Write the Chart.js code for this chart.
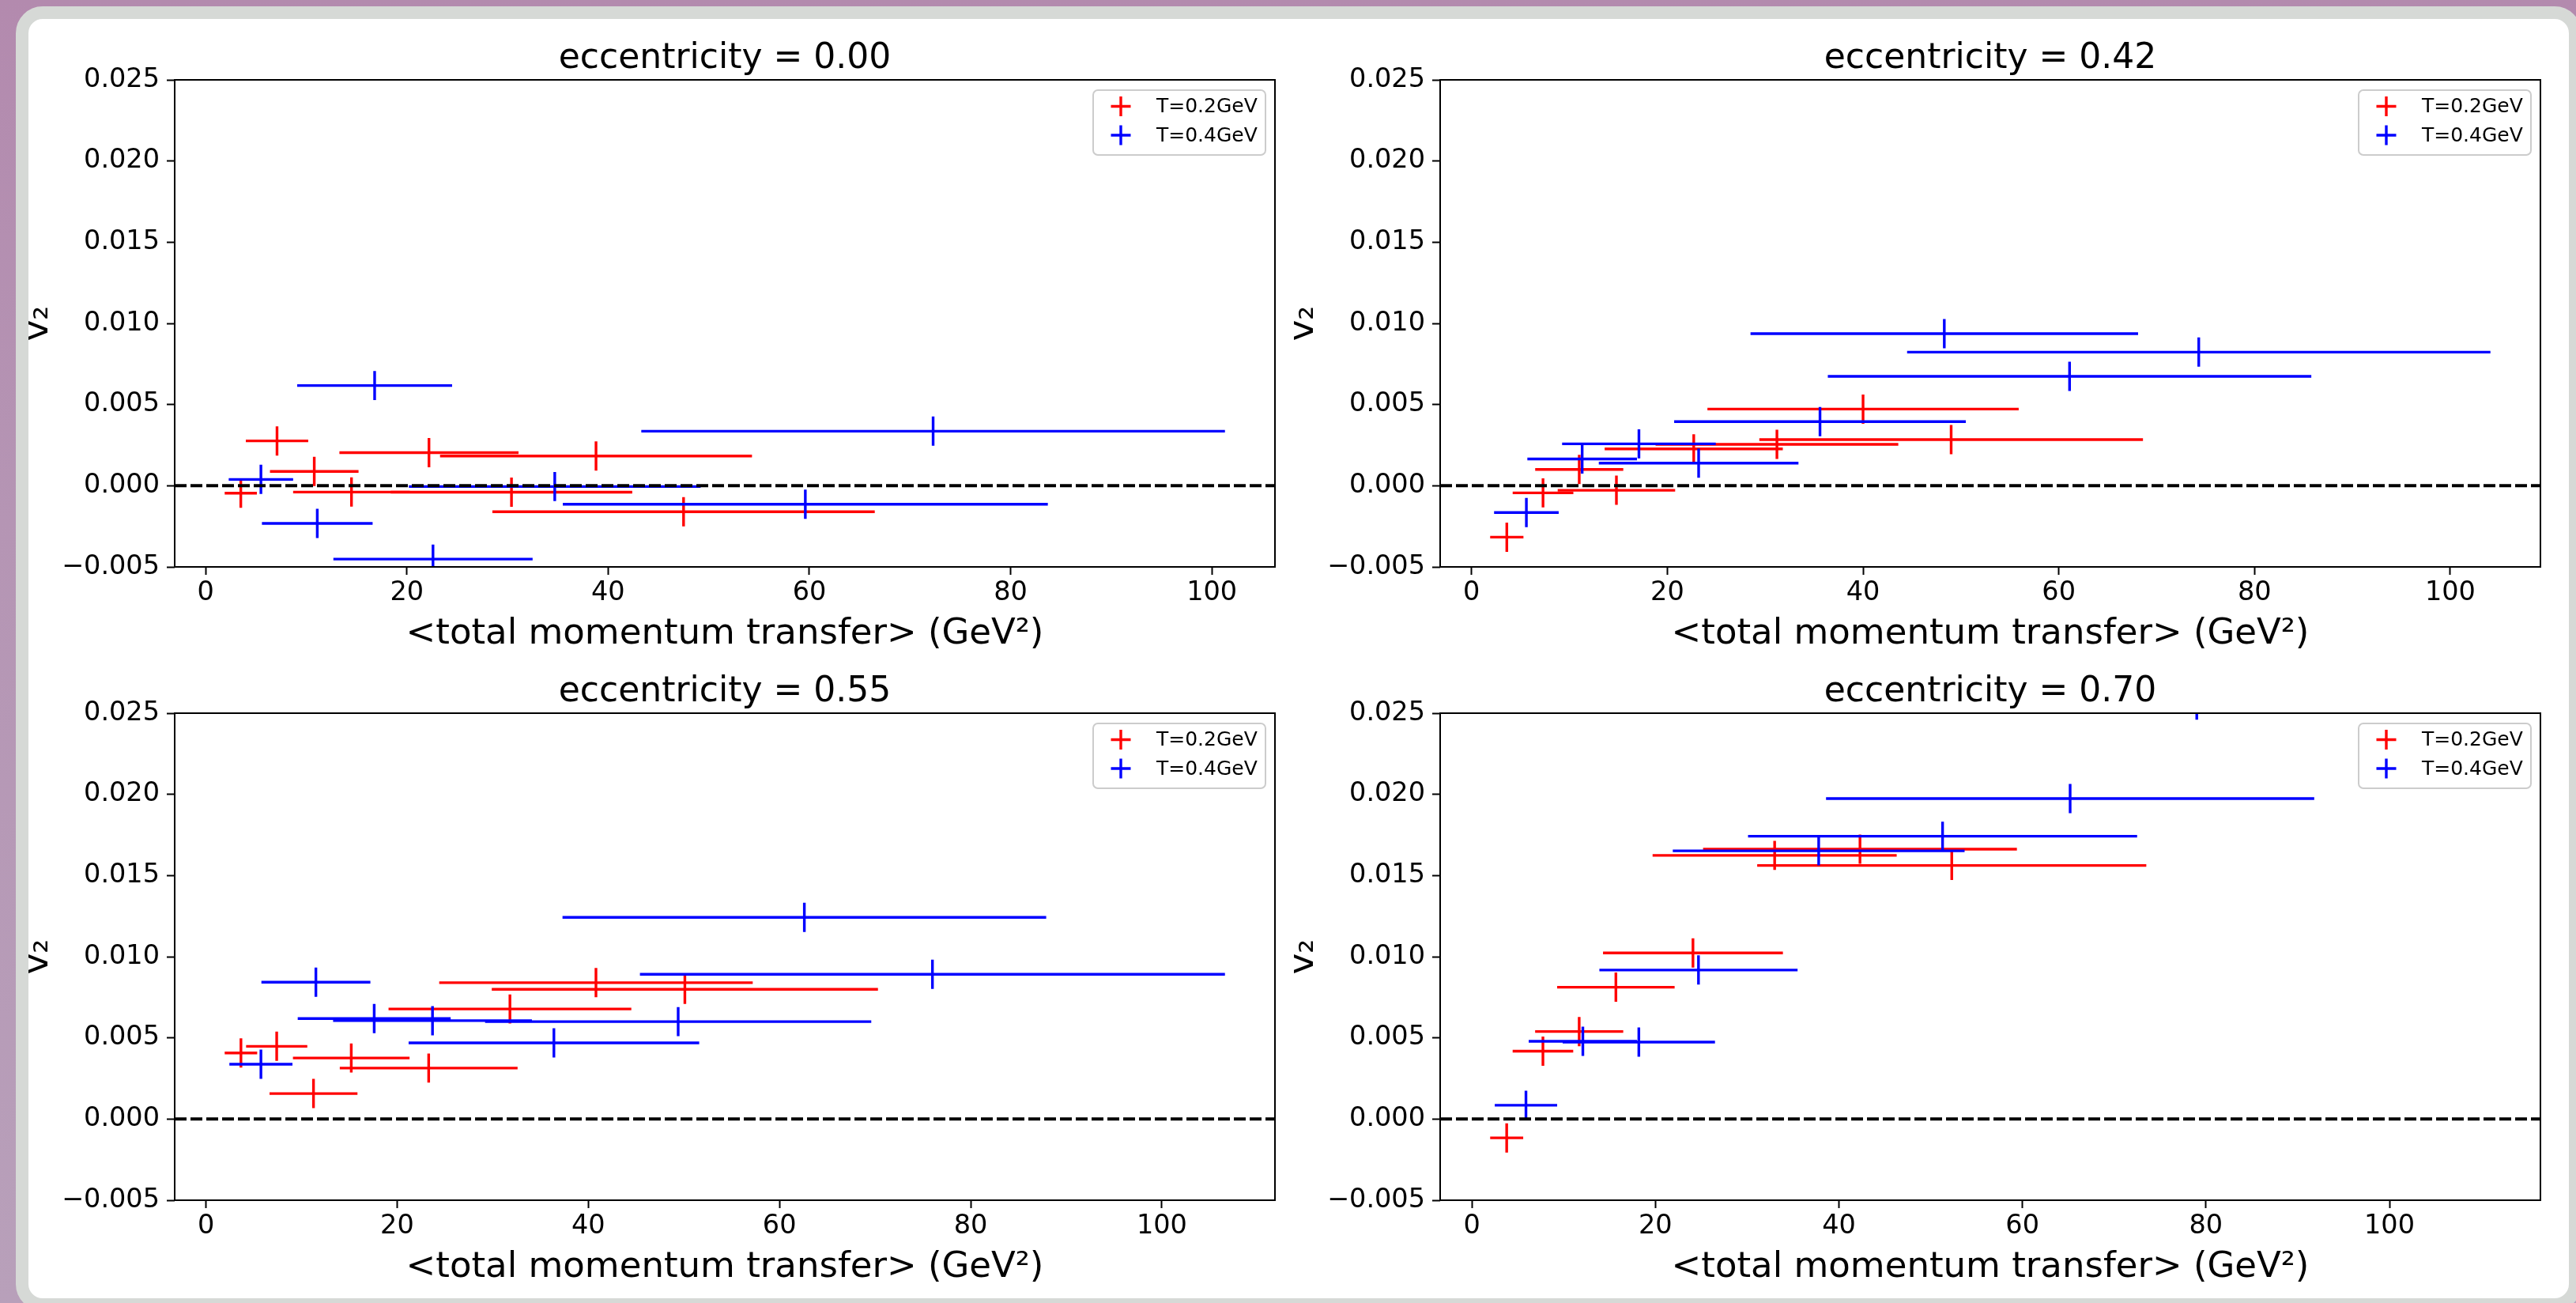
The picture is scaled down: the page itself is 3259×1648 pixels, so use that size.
<!DOCTYPE html>
<html><head><meta charset="utf-8">
<script src="https://cdn.jsdelivr.net/npm/chart.js@4.4.0/dist/chart.umd.min.js"></script>
<style>
html,body{margin:0;padding:0;width:3259px;height:1648px;overflow:hidden;}
body{position:relative;background:linear-gradient(180deg,#b38aae 0%,#b595b4 40%,#b8a0ba 100%);font-family:"DejaVu Sans";}
#card{position:absolute;left:20px;top:8px;width:3246px;height:1650px;box-sizing:border-box;border:16px solid #d6d9d6;border-radius:34px;background:#fff;}
canvas{position:absolute;}
</style></head><body>
<div id="card"></div>
<canvas id="c0" width="1640" height="840" style="left:0px;top:0px;width:1640px;height:840px"></canvas>
<canvas id="c1" width="1640" height="840" style="left:1601px;top:0px;width:1640px;height:840px"></canvas>
<canvas id="c2" width="1640" height="840" style="left:0px;top:801px;width:1640px;height:840px"></canvas>
<canvas id="c3" width="1640" height="840" style="left:1601px;top:801px;width:1640px;height:840px"></canvas>
<script>
// ---- data ----
const eccentricities = ['0.00', '0.42', '0.55', '0.70'];
const seriesLabels = ['T=0.2GeV', 'T=0.4GeV'];
const seriesColors = ['#ff0000', '#0000ff'];
const xTickValues = [0, 20, 40, 60, 80, 100];
const xTickLabels = ['0', '20', '40', '60', '80', '100'];
const yTickValues = [-0.005, 0, 0.005, 0.010, 0.015, 0.020, 0.025];
const yTickLabels = ['\u22120.005', '0.000', '0.005', '0.010', '0.015', '0.020', '0.025'];

// eccentricity = 0.00
const e000RedX    = [3.5, 7.1, 10.8, 14.5, 22.2, 30.4, 38.8, 47.5];
const e000RedXerr = [1.6, 3.1, 4.4, 5.8, 8.9, 12.0, 15.5, 19.0];
const e000RedY    = [-0.00046, 0.00276, 0.00088, -0.00039, 0.00204, -0.00040, 0.00183, -0.00160];
const e000RedYerr = [0.0009, 0.0009, 0.0009, 0.0009, 0.0009, 0.0009, 0.0009, 0.0009];
const e000BlueX    = [5.5, 11.1, 16.8, 22.6, 34.7, 59.6, 72.3];
const e000BlueXerr = [3.2, 5.5, 7.7, 9.9, 14.5, 24.1, 29.0];
const e000BlueY    = [0.00039, -0.00232, 0.00617, -0.00452, -0.00005, -0.00114, 0.00336];
const e000BlueYerr = [0.0009, 0.0009, 0.0009, 0.0009, 0.0009, 0.0009, 0.0009];

// eccentricity = 0.42
const e042RedX    = [3.6, 7.3, 11.0, 14.8, 22.7, 31.2, 40.0, 49.0];
const e042RedXerr = [1.7, 3.1, 4.5, 6.0, 9.1, 12.4, 15.9, 19.6];
const e042RedY    = [-0.00317, -0.00044, 0.00100, -0.00028, 0.00227, 0.00255, 0.00472, 0.00284];
const e042RedYerr = [0.0009, 0.0009, 0.0009, 0.0009, 0.0009, 0.0009, 0.0009, 0.0009];
const e042BlueX    = [5.6, 11.3, 17.1, 23.2, 35.6, 48.3, 61.1, 74.3];
const e042BlueXerr = [3.3, 5.6, 7.85, 10.2, 14.9, 19.8, 24.7, 29.8];
const e042BlueY    = [-0.00165, 0.00165, 0.00258, 0.00139, 0.00395, 0.00937, 0.00674, 0.00823];
const e042BlueYerr = [0.0009, 0.0009, 0.0009, 0.0009, 0.0009, 0.0009, 0.0009, 0.0009];

// eccentricity = 0.55
const e055RedX    = [3.66, 7.4, 11.25, 15.2, 23.3, 31.8, 40.8, 50.1];
const e055RedXerr = [1.7, 3.2, 4.6, 6.1, 9.3, 12.7, 16.4, 20.2];
const e055RedY    = [0.00407, 0.00448, 0.00157, 0.00376, 0.00314, 0.00678, 0.00840, 0.00799];
const e055RedYerr = [0.0009, 0.0009, 0.0009, 0.0009, 0.0009, 0.0009, 0.0009, 0.0009];
const e055BlueX    = [5.75, 11.5, 17.6, 23.7, 36.4, 49.4, 62.6, 76.0];
const e055BlueXerr = [3.3, 5.7, 8.0, 10.4, 15.2, 20.2, 25.3, 30.6];
const e055BlueY    = [0.00338, 0.00843, 0.00619, 0.00606, 0.00469, 0.00600, 0.01242, 0.00892];
const e055BlueYerr = [0.0009, 0.0009, 0.0009, 0.0009, 0.0009, 0.0009, 0.0009, 0.0009];

// eccentricity = 0.70
const e070RedX    = [3.8, 7.75, 11.7, 15.7, 24.1, 33.0, 42.3, 52.3];
const e070RedXerr = [1.8, 3.3, 4.8, 6.4, 9.8, 13.3, 17.1, 21.2];
const e070RedY    = [-0.00116, 0.00418, 0.00539, 0.00812, 0.01023, 0.01624, 0.01662, 0.01562];
const e070RedYerr = [0.0009, 0.0009, 0.0009, 0.0009, 0.0009, 0.0009, 0.0009, 0.0009];
const e070BlueX    = [5.9, 12.1, 18.2, 24.7, 37.8, 51.3, 65.2, 79.0];
const e070BlueXerr = [3.4, 5.9, 8.3, 10.8, 15.9, 21.2, 26.6, 32.0];
const e070BlueY    = [0.00085, 0.00479, 0.00474, 0.00918, 0.01652, 0.01742, 0.01974, 0.02550];
const e070BlueYerr = [0.0009, 0.0009, 0.0009, 0.0009, 0.0009, 0.0009, 0.0009, 0.0009];

const panels = [
  {red:[e000RedX,e000RedXerr,e000RedY,e000RedYerr], blue:[e000BlueX,e000BlueXerr,e000BlueY,e000BlueYerr]},
  {red:[e042RedX,e042RedXerr,e042RedY,e042RedYerr], blue:[e042BlueX,e042BlueXerr,e042BlueY,e042BlueYerr]},
  {red:[e055RedX,e055RedXerr,e055RedY,e055RedYerr], blue:[e055BlueX,e055BlueXerr,e055BlueY,e055BlueYerr]},
  {red:[e070RedX,e070RedXerr,e070RedY,e070RedYerr], blue:[e070BlueX,e070BlueXerr,e070BlueY,e070BlueYerr]}
];

// ---- rendering ----
Chart.defaults.color = '#000';
Chart.defaults.font.family = '"DejaVu Sans"';

const LW = 3.4;
function toPoints(arr){
  const [xs, xe, ys, ye] = arr;
  return xs.map((v,i)=>({x:v, y:ys[i], xerr:xe[i], yerr:ye[i]}));
}

const errorBarPlugin = {
  id: 'errbars',
  beforeDatasetsDraw(chart){
    const {ctx, chartArea:a, scales:{x, y}} = chart;
    ctx.save();
    ctx.beginPath(); ctx.rect(a.left, a.top, a.right-a.left, a.bottom-a.top); ctx.clip();
    chart.data.datasets.forEach(ds=>{
      if(!ds.errorBars) return;
      ctx.strokeStyle = ds.borderColor; ctx.lineWidth = LW; ctx.lineCap = 'butt';
      ds.data.forEach(p=>{
        const px = x.getPixelForValue(p.x), py = y.getPixelForValue(p.y);
        ctx.beginPath();
        ctx.moveTo(x.getPixelForValue(p.x-p.xerr), py); ctx.lineTo(x.getPixelForValue(p.x+p.xerr), py);
        ctx.moveTo(px, y.getPixelForValue(p.y-p.yerr)); ctx.lineTo(px, y.getPixelForValue(p.y+p.yerr));
        ctx.stroke();
      });
    });
    ctx.restore();
  },
  afterDraw(chart){
    const {ctx, chartArea:a} = chart;
    const o = chart.options.plugins.errbars;
    ctx.save();
    // frame
    ctx.strokeStyle = '#000'; ctx.lineWidth = 2;
    ctx.strokeRect(a.left, a.top, a.right-a.left, a.bottom-a.top);
    // title
    ctx.fillStyle = '#000';
    ctx.font = '44px "DejaVu Sans"';
    ctx.textAlign = 'center'; ctx.textBaseline = 'alphabetic';
    ctx.fillText(o.title, (a.left+a.right)/2, a.top - 15);
    // legend
    const lw = 218, lh = 82, lx = a.right - 12 - lw, ly = a.top + 13;
    ctx.beginPath();
    ctx.roundRect(lx, ly, lw, lh, 6);
    ctx.fillStyle = 'rgba(255,255,255,0.8)'; ctx.fill();
    ctx.strokeStyle = '#cccccc'; ctx.lineWidth = 2; ctx.stroke();
    const rows = [ly + 20.5, ly + 57];
    chart.data.datasets.filter(d=>d.errorBars).forEach((ds, i)=>{
      const cx = lx + 35, cy = rows[i];
      ctx.strokeStyle = ds.borderColor; ctx.lineWidth = LW;
      ctx.beginPath();
      ctx.moveTo(cx-12.5, cy); ctx.lineTo(cx+12.5, cy);
      ctx.moveTo(cx, cy-12.5); ctx.lineTo(cx, cy+12.5);
      ctx.stroke();
      ctx.fillStyle = '#000'; ctx.font = '25px "DejaVu Sans"';
      ctx.textAlign = 'left'; ctx.textBaseline = 'middle';
      ctx.fillText(ds.label, lx + 80, cy + 1);
    });
    ctx.restore();
  }
};

panels.forEach((p, k)=>{
  const all = [...toPoints(p.red), ...toPoints(p.blue)];
  const lo = Math.min(...all.map(d=>d.x-d.xerr));
  const hi = Math.max(...all.map(d=>d.x+d.xerr));
  const m = 0.05*(hi-lo);
  const xmin = lo - m, xmax = hi + m;
  new Chart(document.getElementById('c'+k), {
    type: 'scatter',
    data: {
      datasets: [
        {label: seriesLabels[0], data: toPoints(p.red), borderColor: seriesColors[0], backgroundColor: seriesColors[0], pointRadius: 0, errorBars: true},
        {label: seriesLabels[1], data: toPoints(p.blue), borderColor: seriesColors[1], backgroundColor: seriesColors[1], pointRadius: 0, errorBars: true},
        {type: 'line', label: 'zero', data: [{x:xmin, y:0}, {x:xmax, y:0}], borderColor: '#000', borderWidth: 4, borderDash: [15,5], pointRadius: 0, fill: false}
      ]
    },
    options: {
      responsive: false, animation: false, devicePixelRatio: 1,
      layout: {padding: {top: 101, left: 0, right: 27, bottom: 0}},
      plugins: {legend: {display: false}, tooltip: {enabled: false}, title: {display: false},
        errbars: {title: 'eccentricity = ' + eccentricities[k]}},
      scales: {
        x: {
          type: 'linear', min: xmin, max: xmax,
          afterBuildTicks: s => { s.ticks = xTickValues.map(v=>({value:v})); },
          afterFit: s => { s.height = 840 - 717; },
          ticks: {autoSkip: false, maxRotation: 0, padding: 3, font: {size: 33.5},
                  callback: (v, i) => xTickLabels[xTickValues.indexOf(v)] ?? ''},
          grid: {display: true, drawOnChartArea: false, drawTicks: true, tickLength: 10, tickColor: '#000', tickWidth: 2},
          border: {display: false},
          title: {display: true, text: '<total momentum transfer> (GeV\u00B2)', font: {size: 45}, padding: {top: 0, bottom: 11}}
        },
        y: {
          type: 'linear', min: -0.005, max: 0.025,
          afterBuildTicks: s => { s.ticks = yTickValues.map(v=>({value:v})); },
          afterFit: s => { s.width = 221; },
          ticks: {autoSkip: false, padding: 9, font: {size: 33.5},
                  callback: (v, i) => yTickLabels[i]},
          grid: {display: true, drawOnChartArea: false, drawTicks: true, tickLength: 10, tickColor: '#000', tickWidth: 2},
          border: {display: false},
          title: {display: true, text: 'v\u2082', font: {size: 45}, padding: {top: 21, bottom: 0}}
        }
      }
    },
    plugins: [errorBarPlugin]
  });
});
</script>
</body></html>
